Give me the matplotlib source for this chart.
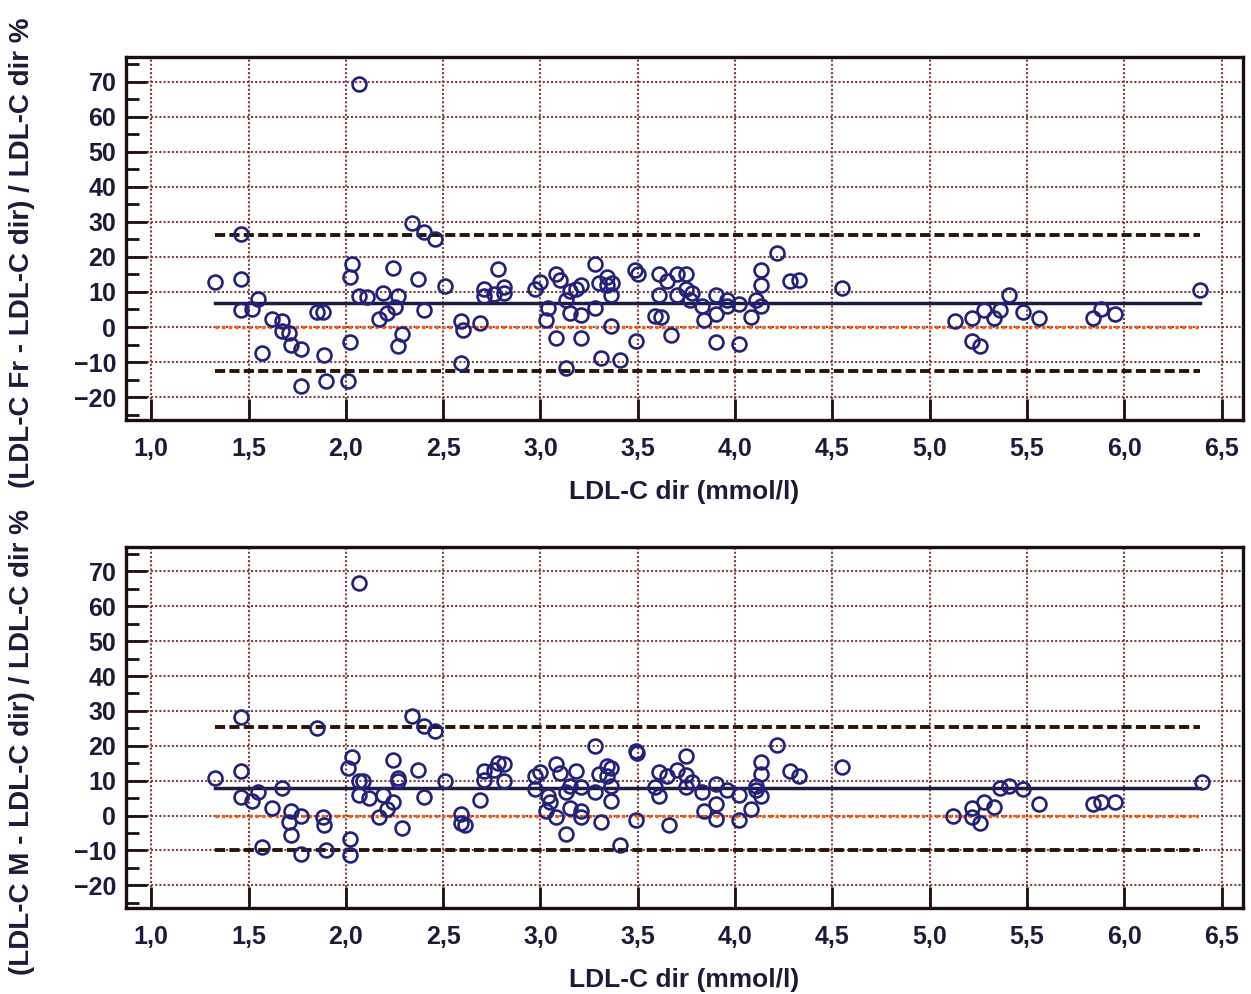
import numpy as np
import matplotlib
matplotlib.use('Agg')
import matplotlib.pyplot as plt
from matplotlib.ticker import MultipleLocator, FuncFormatter

plt.rcParams['font.family'] = ['Liberation Sans', 'DejaVu Sans']

# ------------------------------------------------------------------------------
# panel 1 : (LDL-C Fr - LDL-C dir) / LDL-C dir %
fr_x = [1.33, 1.46, 1.46, 1.46, 1.52, 1.55, 1.57, 1.62, 1.67, 1.67, 1.71, 1.72,
        1.77, 1.77, 1.85, 1.88, 1.89, 1.90, 2.01, 2.02, 2.02, 2.03, 2.07, 2.07,
        2.11, 2.17, 2.19, 2.21, 2.25, 2.24, 2.27, 2.29, 2.27, 2.34, 2.40, 2.46,
        2.37, 2.40, 2.51, 2.59, 2.60, 2.59, 2.69, 2.71, 2.71, 2.76, 2.78, 2.81,
        2.81,
        2.97, 3.00, 3.04, 3.03, 3.08, 3.08, 3.10, 3.13, 3.13, 3.15, 3.15, 3.18,
        3.21, 3.21, 3.21, 3.28, 3.28, 3.30, 3.31, 3.34, 3.34, 3.36, 3.37, 3.36,
        3.41, 3.49, 3.485, 3.50, 3.59, 3.62, 3.61, 3.65, 3.61, 3.67, 3.70, 3.70,
        3.75, 3.75, 3.78, 3.77, 3.83, 3.84, 3.90, 3.90, 3.90, 3.96, 3.96, 4.02,
        4.02, 4.08, 4.11, 4.135, 4.135, 4.135, 4.215, 4.28, 4.33, 4.55,
        5.13, 5.22, 5.22, 5.26, 5.28, 5.33, 5.36, 5.41, 5.48, 5.56, 5.84, 5.88,
        5.95, 6.39]
fr_y = [12.7, 26.5, 13.6, 4.8, 5.2, 8.1, -7.5, 2.2, 1.7, -1.1, -1.6, -5.0,
        -6.2, -16.7, 4.3, 4.3, -8.0, -15.4, -15.4, -4.3, 14.4, 18.1, 69.4, 8.9,
        8.6, 2.2, 9.8, 3.9, 5.8, 16.7, 8.9, -1.9, -5.4, 29.8, 27.0, 25.0,
        13.6, 4.9, 11.7, 1.7, -0.9, -10.2, 1.2, 10.8, 8.9, 9.3, 16.5, 11.5,
        9.8,
        10.9, 12.8, 5.4, 2.1, -3.2, 15.0, 13.5, -11.7, 7.8, 10.2, 4.0, 10.7,
        12.1, 3.5, -3.0, 18.1, 5.4, 12.6, -8.9, 14.3, 12.1, 9.2, 12.6, 0.2,
        -9.3, -3.9, 16.4, 15.2, 3.2, 2.9, 15.0, 13.0, 9.2, -2.2, 15.0, 9.2,
        15.2, 10.7, 9.7, 7.8, 5.9, 2.1, 9.0, 3.8, -4.4, 7.8, 6.1, 6.7,
        -4.8, 2.9, 7.8, 5.9, 12.1, 16.4, 21.1, 13.0, 13.5, 11.1,
        1.6, 2.6, -4.1, -5.3, 4.8, 2.6, 4.8, 9.0, 4.3, 2.6, 2.6, 5.1,
        3.8, 10.5]
fr_mean, fr_upper, fr_lower = 6.9, 26.2, -12.5

# panel 2 : (LDL-C M - LDL-C dir) / LDL-C dir %
m_x = [1.33, 1.46, 1.46, 1.46, 1.52, 1.55, 1.57, 1.62, 1.67, 1.72, 1.71, 1.72,
       1.77, 1.77, 1.85, 1.88, 1.89, 1.90, 2.02, 2.02, 2.01, 2.03, 2.07, 2.07,
       2.09, 2.07, 2.12, 2.19, 2.17, 2.21, 2.24, 2.24, 2.27, 2.27, 2.29, 2.34,
       2.40, 2.46, 2.37, 2.40, 2.51, 2.59, 2.59, 2.61, 2.69, 2.71, 2.71, 2.76,
       2.78, 2.81, 2.81,
       2.97, 3.00, 2.97, 3.04, 3.05, 3.03, 3.08, 3.08, 3.10, 3.13, 3.13, 3.15,
       3.15, 3.18, 3.21, 3.21, 3.21, 3.28, 3.28, 3.30, 3.31, 3.34, 3.34, 3.36,
       3.36, 3.36, 3.41, 3.49, 3.49, 3.495, 3.59, 3.61, 3.61, 3.65, 3.66, 3.70,
       3.75, 3.75, 3.75, 3.78, 3.83, 3.84, 3.90, 3.90, 3.90, 3.96, 4.02, 4.02,
       4.08, 4.11, 4.11, 4.135, 4.135, 4.135, 4.215, 4.28, 4.33, 4.55,
       5.12, 5.22, 5.22, 5.26, 5.28, 5.33, 5.36, 5.41, 5.48, 5.56, 5.84, 5.88,
       5.95, 6.40]
m_y = [10.8, 28.3, 12.9, 5.2, 4.3, 6.7, -9.0, 2.2, 7.9, 1.2, -1.9, -5.7,
       0.0, -11.1, 25.2, -0.3, -2.6, -9.8, -6.7, -11.4, 13.6, 16.7, 66.7, 9.8,
       10.0, 6.0, 5.0, 6.0, -0.3, 1.9, 3.8, 15.9, 10.8, 10.0, -3.5, 28.6,
       25.7, 24.3, 13.0, 5.4, 10.0, 0.5, -2.2, -2.6, 4.5, 12.7, 10.2, 13.0,
       15.2, 14.8, 10.0,
       11.4, 12.4, 7.6, 5.7, 3.8, 1.4, -0.5, 14.8, 12.1, -5.2, 6.7, 8.6,
       2.2, 12.7, 8.1, 1.4, -0.3, 20.0, 6.7, 11.9, -1.9, 14.3, 11.4, 13.6,
       8.6, 4.3, -8.3, -1.4, 18.4, 17.8, 8.3, 5.7, 12.4, 11.4, -2.6, 13.0,
       17.1, 11.7, 8.1, 9.5, 6.7, 1.4, 9.0, 3.3, -1.0, 7.3, 6.0, -1.4,
       1.9, 8.6, 7.3, 5.7, 11.9, 15.5, 20.3, 12.9, 11.4, 13.8,
       0.0, 2.1, -0.5, -2.2, 3.8, 2.6, 7.9, 8.6, 7.6, 3.3, 3.3, 3.8,
       3.8, 9.5]
m_mean, m_upper, m_lower = 7.9, 25.5, -10.0

line_x = [1.33, 6.39]
xlabel = 'LDL-C dir (mmol/l)'
ylabels = ['(LDL-C Fr - LDL-C dir) / LDL-C dir %',
           '(LDL-C M - LDL-C dir) / LDL-C dir %']
# ------------------------------------------------------------------------------
txt_c = '#1c1c3a'
frame_c = '#1e0d0d'
grid_c = '#7e4040'


def panel(ax, x, y, mean, upper, lower, ylab):
    ax.set_xlim(0.87, 6.61)
    ax.set_ylim(-26.5, 77)
    ax.xaxis.set_major_locator(MultipleLocator(0.5))
    ax.yaxis.set_minor_locator(MultipleLocator(5))
    ax.set_yticks(range(-20, 71, 10))
    ax.xaxis.set_major_formatter(FuncFormatter(lambda v, p: ('%.1f' % v).replace('.', ',')))
    ax.grid(which='major', color=grid_c, linestyle=(0, (1, 1)), linewidth=1.5)
    ax.set_axisbelow(True)
    for s in ax.spines.values():
        s.set_color(frame_c)
        s.set_linewidth(2.4)
    ax.tick_params(axis='both', which='major', direction='in', length=15,
                   width=2, color=frame_c, labelsize=18, labelcolor=txt_c)
    ax.tick_params(axis='y', which='minor', direction='in', length=9,
                   width=2, color=frame_c)
    ax.tick_params(axis='x', pad=12)
    ax.tick_params(axis='y', pad=7)
    for lab in ax.get_xticklabels() + ax.get_yticklabels():
        lab.set_fontweight('bold')
    ax.plot(line_x, [0, 0], color='#ff5a10', linestyle=(0, (1, 1)), linewidth=2.4)
    ax.plot(line_x, [upper, upper], color='#2a140a', linestyle=(0, (2.6, 1.1)),
            linewidth=2.8)
    ax.plot(line_x, [lower, lower], color='#2a140a', linestyle=(0, (2.6, 1.1)),
            linewidth=2.8)
    ax.plot(line_x, [mean, mean], color='#1c1c40', linewidth=2.5)
    ax.plot(x, y, 'o', markerfacecolor='none', markeredgecolor='#22227a',
            markersize=10, markeredgewidth=1.9)
    ax.set_xlabel(xlabel, fontsize=19, color=txt_c, labelpad=14, fontweight='bold')
    ax.set_ylabel(ylab, fontsize=20, color=txt_c, fontweight='bold')
    ax.yaxis.set_label_coords(-0.093, 0.46)
    ax.yaxis.label.set_verticalalignment('center')


fig = plt.figure(figsize=(12.51, 9.94), dpi=100)
ax1 = fig.add_axes([0.1007, 0.5775, 0.8929, 0.3652])
ax2 = fig.add_axes([0.1007, 0.0865, 0.8929, 0.3632])
panel(ax1, fr_x, fr_y, fr_mean, fr_upper, fr_lower, ylabels[0])
panel(ax2, m_x, m_y, m_mean, m_upper, m_lower, ylabels[1])
plt.savefig('out.png', dpi=100)
plt.close()
